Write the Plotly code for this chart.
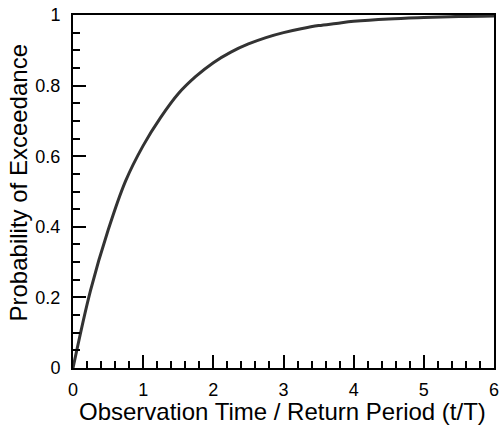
import plotly.graph_objects as go

# Values
t_over_T = [0, 0.25, 0.5, 0.75, 1.0, 1.25, 1.5, 1.75, 2.0, 2.25, 2.5, 2.75, 3.0,
            3.25, 3.5, 3.75, 4.0, 4.5, 5.0, 5.5, 6.0]
prob_exceed = [0, 0.22, 0.39, 0.53, 0.63, 0.71, 0.777, 0.826, 0.865, 0.895, 0.918,
               0.936, 0.95, 0.961, 0.97, 0.976, 0.982, 0.989, 0.993, 0.996, 0.9975]
x_ticks = [0, 1, 2, 3, 4, 5, 6]
y_ticks = [0, 0.2, 0.4, 0.6, 0.8, 1]
y_tick_labels = ["0", "0.2", "0.4", "0.6", "0.8", "1"]

font = "Liberation Sans, Arial, Helvetica, sans-serif"

W, H = 500, 425
L, T, R, B = 73, 15, 6, 57

fig = go.Figure(go.Scatter(
    x=t_over_T, y=prob_exceed, mode="lines",
    line=dict(color="#333333", width=3, shape="spline", smoothing=1.0),
    hoverinfo="skip",
))

axis_common = dict(
    showline=True, linecolor="black", linewidth=2, mirror=True,
    showgrid=False, zeroline=False, automargin=False,
    ticks="inside", ticklen=13, tickwidth=2, tickcolor="black",
    tickfont=dict(family=font, size=18, color="black"),
    ticklabeloverflow="allow",
)

fig.update_xaxes(
    range=[0, 6], tickvals=x_ticks, ticktext=[str(v) for v in x_ticks],
    ticklabelstandoff=4,
    minor=dict(ticks="inside", ticklen=7, tickwidth=2, tickcolor="black", dtick=0.2, showgrid=False),
    **axis_common,
)
fig.update_yaxes(
    range=[0, 1], tickvals=y_ticks, ticktext=y_tick_labels,
    ticklabelstandoff=7,
    minor=dict(ticks="inside", ticklen=7, tickwidth=2, tickcolor="black", dtick=0.05, showgrid=False),
    **axis_common,
)

plot_h = H - T - B
plot_w = W - L - R
fig.add_annotation(
    text="Probability of Exceedance", textangle=-90,
    xref="paper", yref="paper", x=0, y=(H - B - 182.5) / plot_h,
    xanchor="center", yanchor="middle", xshift=-(L - 18), showarrow=False,
    font=dict(family=font, size=24, color="black"),
)
fig.add_annotation(
    text="Observation Time / Return Period (t/T)",
    xref="paper", yref="paper", x=(282.5 - L) / plot_w, y=0,
    xanchor="center", yanchor="middle", yshift=-(411.5 - (H - B)), showarrow=False,
    font=dict(family=font, size=24, color="black"),
)

fig.update_layout(
    width=W, height=H,
    margin=dict(l=L, r=R, t=T, b=B),
    plot_bgcolor="white", paper_bgcolor="white",
    showlegend=False,
)

# remove the browser's default 8px body margin so the figure fills the window
fig.write_html(
    "out.html",
    config={"displayModeBar": False},
    post_script="document.body.style.margin='0';document.body.style.overflow='hidden';",
)
